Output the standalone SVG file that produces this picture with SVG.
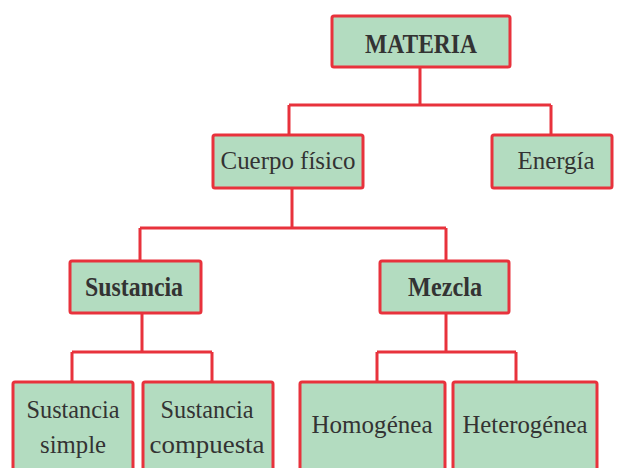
<svg xmlns="http://www.w3.org/2000/svg" width="618" height="468" viewBox="0 0 618 468">
<style>
.box{fill:#b3dcc0;stroke:#e8323c;stroke-width:3}
.lnk{fill:none;stroke:#e8323c;stroke-width:3}
.t{font-family:"Liberation Serif","Times New Roman",serif;font-size:26px;fill:#333;text-anchor:middle}
.b{font-weight:bold;font-size:27px}
</style>
<rect width="618" height="468" fill="#fff"/>
<g id="connectors">
<path class="lnk" d="M420 67V105M289 105H551M289 105V135M551 105V135"/>
<path class="lnk" d="M292 188V228M140 228H446M140 228V261M446 228V261"/>
<path class="lnk" d="M142 313V352M72 352H212M72 352V382M212 352V382"/>
<path class="lnk" d="M446 313V352M377 352H516M377 352V382M516 352V382"/>
</g>
<g id="materia"><rect class="box" x="332" y="16" width="178" height="51" rx="2"/><text class="t b" x="421" y="53" textLength="112" lengthAdjust="spacingAndGlyphs">MATERIA</text></g>
<g id="cuerpo"><rect class="box" x="213" y="135" width="150" height="53" rx="2"/><text class="t" x="288" y="169" textLength="135" lengthAdjust="spacingAndGlyphs">Cuerpo físico</text></g>
<g id="energia"><rect class="box" x="492" y="135" width="120" height="53" rx="2"/><text class="t" x="556" y="169" textLength="77" lengthAdjust="spacingAndGlyphs">Energía</text></g>
<g id="sustancia"><rect class="box" x="70" y="261" width="131" height="52" rx="2"/><text class="t b" x="134" y="296" textLength="98" lengthAdjust="spacingAndGlyphs">Sustancia</text></g>
<g id="mezcla"><rect class="box" x="380" y="261" width="129" height="52" rx="2"/><text class="t b" x="445" y="296" textLength="74" lengthAdjust="spacingAndGlyphs">Mezcla</text></g>
<g id="simple"><rect class="box" x="13" y="382" width="120" height="100" rx="2"/><text class="t" x="73" y="418" textLength="93" lengthAdjust="spacingAndGlyphs">Sustancia</text><text class="t" x="73" y="453" textLength="66" lengthAdjust="spacingAndGlyphs">simple</text></g>
<g id="compuesta"><rect class="box" x="143" y="382" width="130" height="100" rx="2"/><text class="t" x="207" y="418" textLength="93" lengthAdjust="spacingAndGlyphs">Sustancia</text><text class="t" x="207" y="453" textLength="115" lengthAdjust="spacingAndGlyphs">compuesta</text></g>
<g id="homogenea"><rect class="box" x="300" y="382" width="145" height="100" rx="2"/><text class="t" x="372" y="433" textLength="121" lengthAdjust="spacingAndGlyphs">Homogénea</text></g>
<g id="heterogenea"><rect class="box" x="453" y="382" width="144" height="100" rx="2"/><text class="t" x="525" y="433" textLength="125" lengthAdjust="spacingAndGlyphs">Heterogénea</text></g>
</svg>
